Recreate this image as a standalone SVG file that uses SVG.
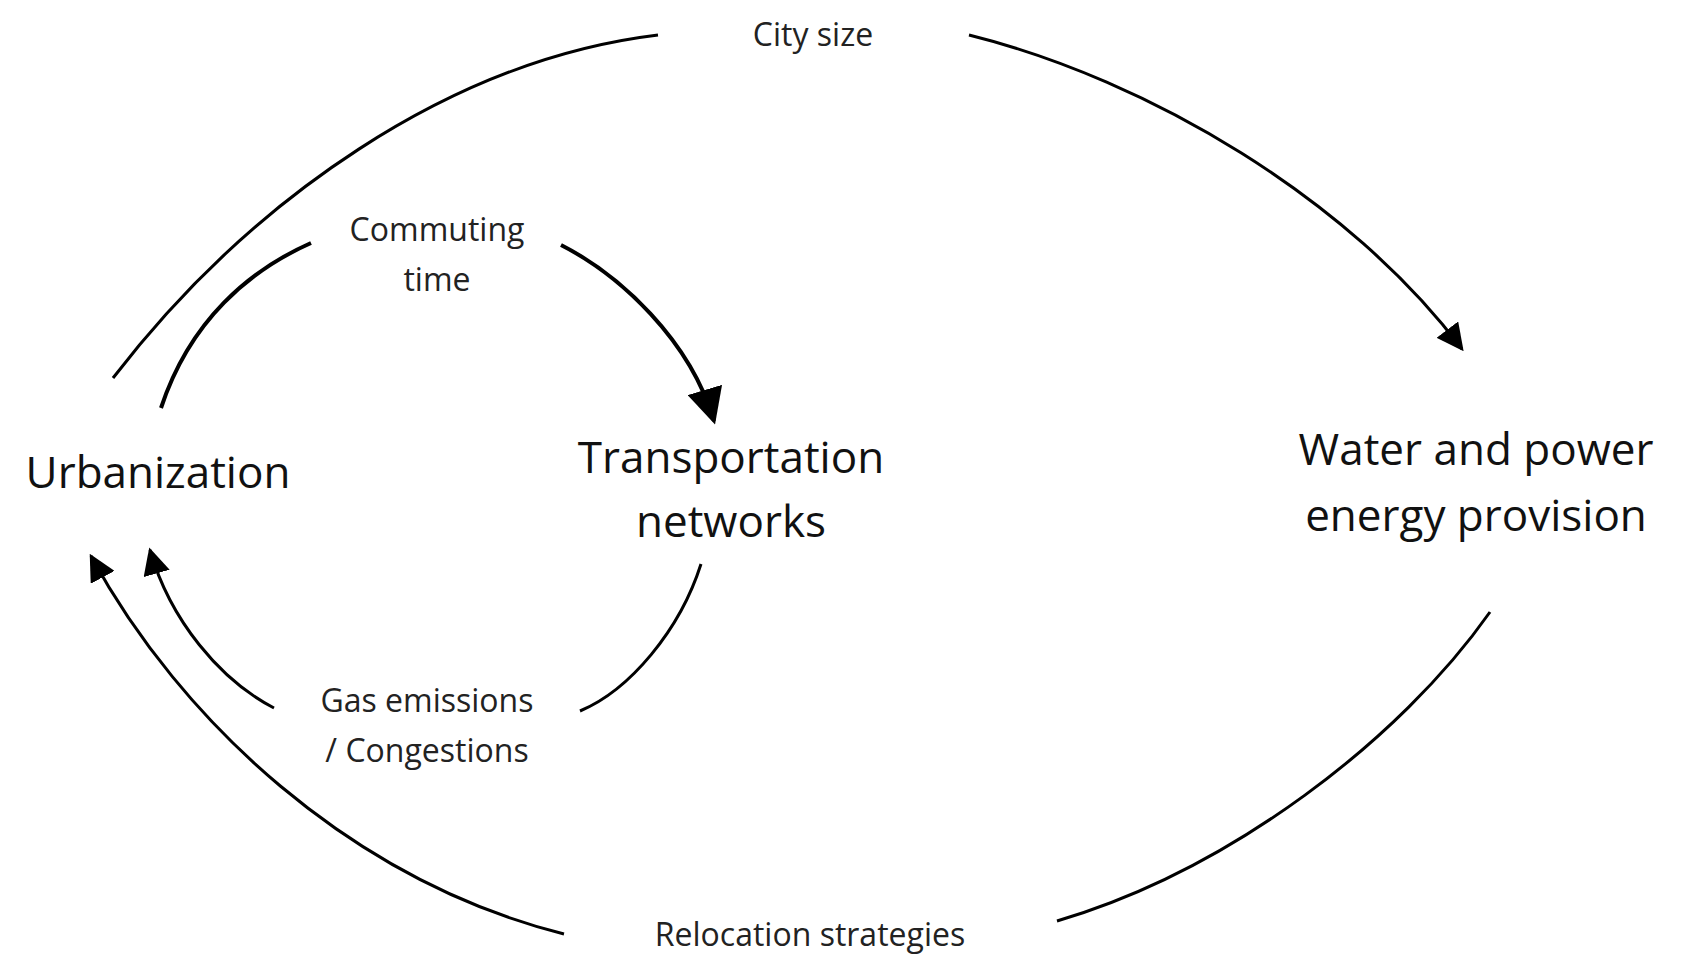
<svg xmlns="http://www.w3.org/2000/svg" width="1683" height="977" viewBox="0 0 1683 977">
<style>
.s{font-family:"Open Sans","Noto Sans",sans-serif;font-size:32px;fill:#222;text-anchor:middle}
.b{font-family:"Open Sans","Noto Sans",sans-serif;font-size:44px;fill:#111;text-anchor:middle}
.c{fill:none;stroke:#000;stroke-width:3}
</style>
<defs><marker id="m" viewBox="0 0 10 10" refX="9" refY="5" markerWidth="9" markerHeight="9" orient="auto"><path d="M0,0 L10,5 L0,10 z"/></marker></defs>
<rect width="1683" height="977" fill="#fff"/>
<g id="connectors">
<path class="c" d="M113,378 C250,200 450,60 658,35"/>
<path class="c" marker-end="url(#m)" d="M969,35 C1150,80 1350,200 1462,349"/>
<path class="c" style="stroke-width:4" d="M161,408 C190,320 250,270 311,243"/>
<path class="c" style="stroke-width:4" marker-end="url(#m)" d="M561,245 C620,275 690,340 714,421"/>
<path class="c" d="M701,564 C680,630 630,690 580,711"/>
<path class="c" marker-end="url(#m)" d="M274,708 C220,680 170,620 150,550"/>
<path class="c" d="M1490,612 C1400,740 1230,870 1057,921"/>
<path class="c" marker-end="url(#m)" d="M564,934 C350,880 180,720 91,556"/>
</g>
<g id="city"><text class="s" x="813" y="46">City size</text></g>
<g id="commuting"><text class="s" x="437" y="241">Commuting</text><text class="s" x="437" y="291">time</text></g>
<g id="gas"><text class="s" x="427" y="712">Gas emissions</text><text class="s" x="427" y="762">/ Congestions</text></g>
<g id="relocation"><text class="s" x="810" y="946">Relocation strategies</text></g>
<g id="urbanization"><text class="b" x="158" y="488">Urbanization</text></g>
<g id="transport"><text class="b" x="731" y="473">Transportation</text><text class="b" x="731" y="537">networks</text></g>
<g id="water"><text class="b" x="1476" y="465">Water and power</text><text class="b" x="1476" y="531">energy provision</text></g>
</svg>
